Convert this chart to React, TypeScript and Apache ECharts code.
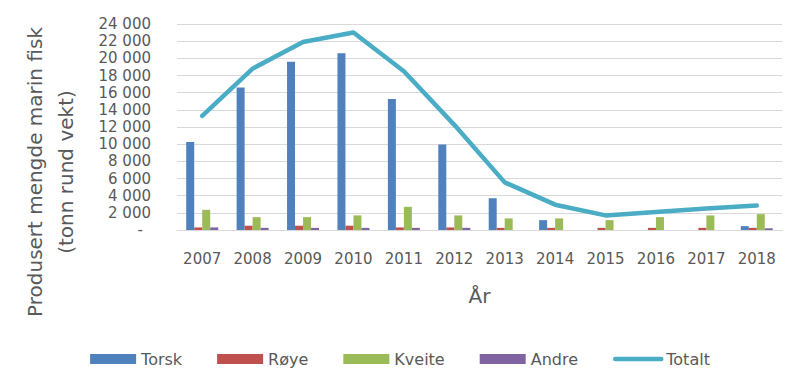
import React, { useEffect, useRef } from "react";
import * as echarts from "echarts";

const years = ["2007", "2008", "2009", "2010", "2011", "2012", "2013", "2014", "2015", "2016", "2017", "2018"];
const torsk = [10250, 16600, 19600, 20600, 15250, 9950, 3700, 1150, 0, 0, 0, 450];
const roye = [300, 500, 500, 500, 300, 300, 250, 250, 250, 250, 250, 250];
const kveite = [2350, 1500, 1500, 1700, 2700, 1700, 1350, 1350, 1150, 1500, 1700, 1850];
const andre = [300, 250, 250, 250, 250, 250, 0, 0, 0, 0, 0, 200];
const totalt = [13300, 18800, 21900, 23000, 18500, 12250, 5550, 2950, 1700, 2100, 2500, 2850];

const FONT = "DejaVu Sans";
const TXT = "#595959";

function fmt(v: number): string {
  if (v === 0) return "{z|-}";
  return String(v).replace(/\B(?=(\d{3})+(?!\d))/g, " ");
}

export default function App() {
  const ref = useRef<HTMLDivElement>(null);
  useEffect(() => {
    if (!ref.current) return;
    const chart = echarts.init(ref.current, undefined, { renderer: "svg" });
    const bar = (name: string, data: number[], color: string) => ({
      name,
      type: "bar",
      data,
      barWidth: 8,
      barGap: "0%",
      itemStyle: { color },
    });
    chart.setOption({
      animation: false,
      textStyle: { fontFamily: FONT },
      grid: { left: 177, right: 18, top: 24, bottom: 155 },
      legend: {
        bottom: 13,
        left: "center",
        itemWidth: 46,
        itemHeight: 10,
        itemGap: 35,
        textStyle: { fontFamily: FONT, fontSize: 16, color: TXT },
        data: [
          { name: "Torsk", icon: "rect" },
          { name: "Røye", icon: "rect" },
          { name: "Kveite", icon: "rect" },
          { name: "Andre", icon: "rect" },
          {
            name: "Totalt",
            itemStyle: { color: "rgba(0,0,0,0)", borderColor: "rgba(0,0,0,0)", borderWidth: 0 },
            lineStyle: { color: "#4BACC6", width: 4.5, cap: "round" },
          },
        ],
      },
      xAxis: {
        type: "category",
        data: years,
        axisLine: { lineStyle: { color: "#d9d9d9", width: 1 } },
        axisTick: { show: false },
        axisLabel: { color: TXT, fontSize: 15, fontFamily: FONT, margin: 21 },
        name: "År",
        nameLocation: "middle",
        nameGap: 56,
        nameTextStyle: { color: TXT, fontSize: 20, fontFamily: FONT },
      },
      yAxis: {
        type: "value",
        min: 0,
        max: 24000,
        interval: 2000,
        axisLine: { show: false },
        axisTick: { show: false },
        splitLine: { lineStyle: { color: "#d9d9d9", width: 1 } },
        axisLabel: {
          color: TXT,
          fontSize: 15,
          fontFamily: FONT,
          margin: 26,
          formatter: (v: number) => fmt(v),
          rich: { z: { color: TXT, fontSize: 15, fontFamily: FONT, padding: [0, 8, 0, 0] } },
        },
      },
      graphic: [
        {
          type: "text",
          x: 50,
          y: 172,
          rotation: Math.PI / 2,
          style: {
            text: "Produsert mengde marin fisk\n(tonn rund vekt)",
            fontFamily: FONT,
            fontSize: 20,
            lineHeight: 31,
            fill: TXT,
            align: "center",
            verticalAlign: "middle",
          },
        },
      ],
      series: [
        bar("Torsk", torsk, "#4F81BD"),
        bar("Røye", roye, "#C0504D"),
        bar("Kveite", kveite, "#9BBB59"),
        bar("Andre", andre, "#8064A2"),
        {
          name: "Totalt",
          type: "line",
          data: totalt,
          showSymbol: false,
          symbol: "none",
          lineStyle: { color: "#4BACC6", width: 4.5, cap: "round", join: "round" },
          itemStyle: { color: "#4BACC6" },
          z: 5,
        },
      ],
    });
    return () => chart.dispose();
  }, []);
  return <div ref={ref} style={{ position: "absolute", left: 0, top: 0, width: 800, height: 385 }} />;
}
